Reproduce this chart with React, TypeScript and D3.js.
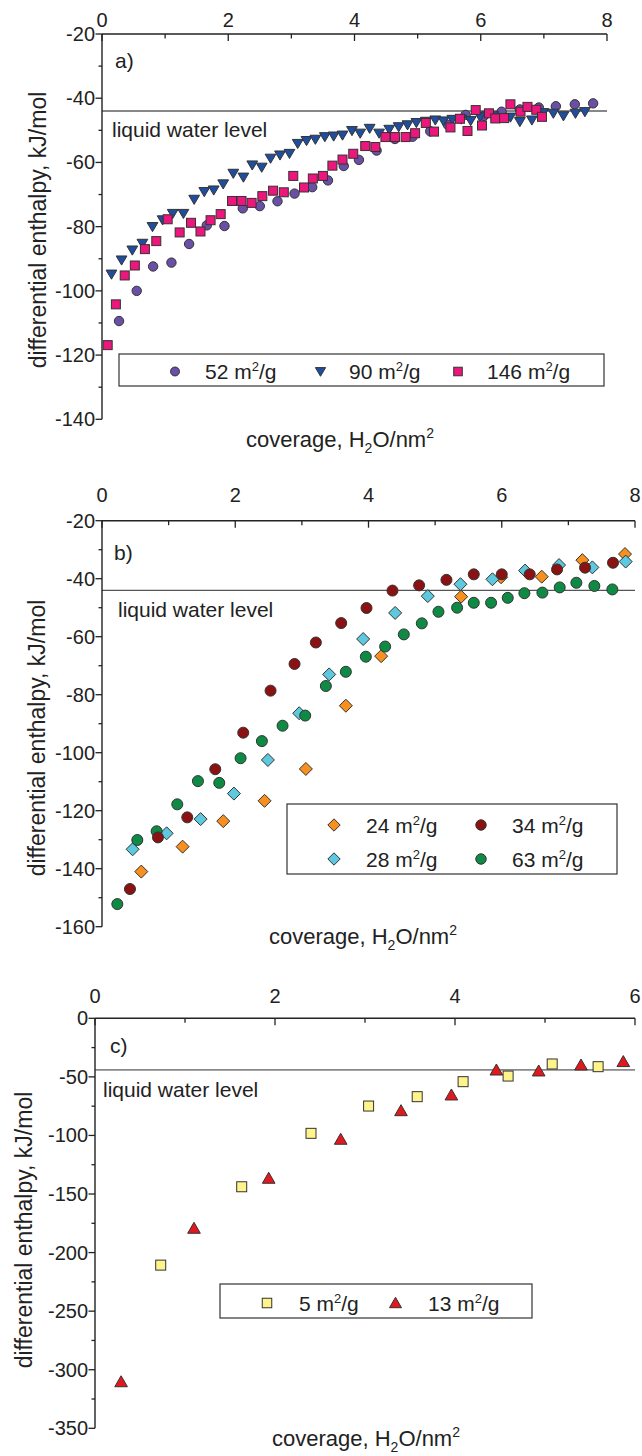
import React from 'react';
import * as d3 from 'd3';

type Pt = [number, number];

// ---------- Panel a data (coverage H2O/nm2, differential enthalpy kJ/mol)
const a52: Pt[] = [
  [0.27, -109.4], [0.55, -100], [0.81, -92.4], [1.1, -91.2], [1.38, -85.4], [1.66, -79.6], [1.94, -79.8],
  [2.23, -74.3], [2.5, -73.6], [2.78, -72.1], [3.05, -69.7], [3.33, -67.7], [3.58, -65.6], [3.83, -61.1],
  [4.07, -59.2], [4.35, -56.3], [4.64, -52.7], [4.92, -52], [5.2, -50.3], [5.48, -48.3], [5.76, -45.2],
  [6.05, -45.5], [6.33, -44.2], [6.62, -43.5], [6.92, -42.9], [7.19, -42.5], [7.49, -41.9], [7.78, -41.6],
];
const a90: Pt[] = [
  [0.15, -94.8], [0.31, -90.4], [0.48, -87.3], [0.64, -85.2], [0.8, -80], [0.96, -77.9], [1.12, -75.9],
  [1.29, -75.9], [1.46, -71.5], [1.62, -69.1], [1.77, -68.6], [1.92, -66.7], [2.08, -63.4], [2.24, -64.6],
  [2.38, -60.8], [2.53, -61.5], [2.67, -58.7], [2.82, -57.7], [2.97, -57.2], [3.1, -54.1], [3.24, -53.2],
  [3.38, -52.8], [3.53, -52], [3.67, -51.8], [3.81, -51.5], [3.96, -50.1], [4.09, -50.9], [4.24, -49.4],
  [4.39, -50.9], [4.55, -49.7], [4.7, -48.9], [4.84, -48.3], [4.98, -47.6], [5.13, -47.2], [5.28, -46.8],
  [5.41, -47.1], [5.55, -46.6], [5.69, -46.5], [5.84, -47], [5.99, -45.8], [6.2, -45.5], [6.47, -45.9],
  [6.62, -47.3], [6.81, -46.8], [6.99, -44.5], [7.15, -44.7], [7.31, -45.5], [7.5, -44.7], [7.65, -44.2],
];
const a146: Pt[] = [
  [0.09, -116.9], [0.22, -104.2], [0.36, -95.2], [0.52, -92.1], [0.68, -87], [0.86, -84.5], [1.04, -77.7],
  [1.23, -81.8], [1.41, -78.8], [1.56, -81.5], [1.72, -78], [1.88, -76.1], [2.06, -72], [2.21, -72],
  [2.37, -72.6], [2.54, -70.5], [2.71, -68.8], [2.88, -69.3], [3.03, -64.2], [3.2, -67.8], [3.34, -65],
  [3.5, -64.2], [3.65, -61], [3.81, -59.1], [3.98, -57.3], [4.17, -54.9], [4.33, -55.2], [4.49, -52.1],
  [4.64, -52.1], [4.81, -52.1], [4.96, -50.9], [5.13, -47.7], [5.26, -50.4], [5.52, -49.1], [5.67, -46.4],
  [5.79, -50.2], [5.92, -43.7], [6.02, -48.5], [6.13, -44.7], [6.23, -46.3], [6.37, -46.2], [6.47, -41.9],
  [6.63, -44.2], [6.74, -42.7], [6.88, -43.6], [6.97, -45.8],
];

// ---------- Panel b data
const b24: Pt[] = [
  [0.59, -141], [1.21, -132.4], [1.82, -123.6], [2.44, -116.6], [3.06, -105.6], [3.66, -83.8], [4.19, -66.7],
  [5.39, -46.2], [5.99, -39.5], [6.6, -39.3], [7.21, -33.6], [7.85, -31.5],
];
const b28: Pt[] = [
  [0.46, -133.3], [0.97, -127.8], [1.48, -122.9], [1.98, -114.1], [2.49, -102.5], [2.96, -86.4], [3.41, -73],
  [3.92, -60.8], [4.4, -51.8], [4.89, -46], [5.38, -41.9], [5.86, -40.2], [6.35, -37.2], [6.86, -35.3],
  [7.36, -36.1], [7.86, -34.1],
];
const b34: Pt[] = [
  [0.42, -147], [0.84, -129.2], [1.28, -122.3], [1.7, -105.7], [2.12, -93.1], [2.53, -78.6], [2.89, -69.4],
  [3.21, -62], [3.59, -55.3], [3.97, -50.1], [4.36, -44.1], [4.76, -42.3], [5.17, -40.4], [5.58, -38.5],
  [6, -38.5], [6.42, -38.5], [6.83, -36.8], [7.25, -36.2], [7.67, -34.5],
];
const b63: Pt[] = [
  [0.23, -152.2], [0.53, -130.1], [0.82, -127.1], [1.13, -117.8], [1.44, -109.8], [1.76, -110.4], [2.08, -101.9],
  [2.4, -96], [2.71, -90.7], [3.05, -87.2], [3.36, -77], [3.66, -72.1], [3.96, -66.9], [4.25, -63.4],
  [4.53, -59.2], [4.8, -55.4], [5.05, -51.4], [5.33, -50], [5.58, -48.3], [5.84, -48.3], [6.09, -46.6],
  [6.34, -45], [6.61, -44.8], [6.87, -43], [7.12, -41.4], [7.39, -42.5], [7.66, -43.7],
];

// ---------- Panel c data
const c5: Pt[] = [
  [0.73, -210.7], [1.63, -143.8], [2.4, -98.2], [3.04, -74.9], [3.58, -66.9], [4.09, -54.1], [4.59, -49.3],
  [5.08, -39], [5.59, -41.3],
];
const c13: Pt[] = [
  [0.29, -310.3], [1.1, -179.3], [1.93, -136.6], [2.73, -103.3], [3.4, -78.9], [3.96, -65.5], [4.46, -44.2],
  [4.93, -45], [5.4, -39.9], [5.87, -37],
];

// ---------- tick values & labels
const ticksX8 = [0, 2, 4, 6, 8];
const minorX8 = [1, 3, 5, 7];
const ticksX6 = [0, 2, 4, 6];
const minorX6 = [1, 3, 5];
const ticksYa = [-20, -40, -60, -80, -100, -120, -140];
const minorYa = [-30, -50, -70, -90, -110, -130];
const ticksYb = [-20, -40, -60, -80, -100, -120, -140, -160];
const minorYb = [-30, -50, -70, -90, -110, -130, -150];
const ticksYc = [0, -50, -100, -150, -200, -250, -300, -350];
const minorYc = [-25, -75, -125, -175, -225, -275, -325];
const liquidWater = -44;
const panelLetters = ['a)', 'b)', 'c)'];
const waterLabel = 'liquid water level';
const yTitle = 'differential enthalpy, kJ/mol';

const FONT = "'Liberation Sans', Arial, Helvetica, sans-serif";
const STROKE = '#333';

type Shape = 'circle' | 'square' | 'triDown' | 'triUp' | 'diamond';

function Marker({ cx, cy, shape, size, fill }: { cx: number; cy: number; shape: Shape; size: number; fill: string }) {
  const s = size / 2;
  const common = { fill, stroke: STROKE, strokeWidth: 1 };
  if (shape === 'circle') return <circle cx={cx} cy={cy} r={s} {...common} />;
  if (shape === 'square') return <rect x={cx - s} y={cy - s} width={size} height={size} {...common} />;
  let pts: Pt[] = [];
  if (shape === 'triDown') pts = [[cx - s * 1.12, cy - s * 0.85], [cx + s * 1.12, cy - s * 0.85], [cx, cy + s * 1.05]];
  if (shape === 'triUp') pts = [[cx - s * 1.15, cy + s * 0.9], [cx + s * 1.15, cy + s * 0.9], [cx, cy - s * 1.1]];
  if (shape === 'diamond') pts = [[cx, cy - s], [cx + s, cy], [cx, cy + s], [cx - s, cy]];
  return <polygon points={pts.map((p) => p.join(',')).join(' ')} {...common} />;
}

function UnitLabel({ x, y, value }: { x: number; y: number; value: string }) {
  return (
    <text x={x} y={y} fontSize={21} fontFamily={FONT} fill="#222">
      {value} m<tspan dy={-8} fontSize={13}>2</tspan><tspan dy={8}>/g</tspan>
    </text>
  );
}

interface Series { data: Pt[]; shape: Shape; size: number; fill: string; label: string }
interface LegendItem { s: number; mx: number; tx: number; y: number }
interface PanelCfg {
  xr: [number, number]; yr: [number, number]; xd: [number, number]; yd: [number, number];
  xMajor: number[]; xMinor: number[]; yMajor: number[]; yMinor: number[];
  letter: string; letterPos: Pt; waterPos: Pt; lineColor: string; lineWidth: number;
  series: Series[]; legendBox: [number, number, number, number]; legend: LegendItem[];
  xTitlePos: Pt; yTitlePos: Pt; xLabelY: number; yLabelX: number;
}

function Panel({ c }: { c: PanelCfg }) {
  const x = d3.scaleLinear().domain(c.xd).range(c.xr);
  const y = d3.scaleLinear().domain(c.yd).range(c.yr);
  const left = c.xr[0];
  const top = c.yr[0];
  return (
    <g>
      {/* liquid water level line */}
      <line x1={x(c.xd[0])} x2={x(c.xd[1])} y1={y(liquidWater)} y2={y(liquidWater)} stroke={c.lineColor} strokeWidth={c.lineWidth} />
      <text x={c.waterPos[0]} y={c.waterPos[1]} fontSize={21} fontFamily={FONT} fill="#222">{waterLabel}</text>
      <text x={c.letterPos[0]} y={c.letterPos[1]} fontSize={21} fontFamily={FONT} fill="#222">{c.letter}</text>
      {/* axes */}
      <line x1={left} x2={x(c.xd[1])} y1={top} y2={top} stroke="#222" strokeWidth={1.4} />
      <line x1={left} x2={left} y1={top} y2={y(c.yd[1])} stroke="#222" strokeWidth={1.4} />
      {c.xMajor.map((t) => (
        <g key={'xm' + t}>
          <line x1={x(t)} x2={x(t)} y1={top} y2={top + 7} stroke="#222" strokeWidth={1.3} />
          <text x={x(t)} y={c.xLabelY} textAnchor="middle" fontSize={20} fontFamily={FONT} fill="#222">{t}</text>
        </g>
      ))}
      {c.xMinor.map((t) => (
        <line key={'xn' + t} x1={x(t)} x2={x(t)} y1={top} y2={top + 4.5} stroke="#222" strokeWidth={1.3} />
      ))}
      {c.yMajor.map((t) => (
        <g key={'ym' + t}>
          <line x1={left - 6.5} x2={left} y1={y(t)} y2={y(t)} stroke="#222" strokeWidth={1.3} />
          <text x={c.yLabelX} y={y(t) + 7} textAnchor="end" fontSize={20} fontFamily={FONT} fill="#222">{t}</text>
        </g>
      ))}
      {c.yMinor.map((t) => (
        <line key={'yn' + t} x1={left - 3.5} x2={left} y1={y(t)} y2={y(t)} stroke="#222" strokeWidth={1.3} />
      ))}
      {/* data */}
      {c.series.map((s, i) => (
        <g key={'s' + i}>
          {s.data.map((p, j) => (
            <Marker key={j} cx={x(p[0])} cy={y(p[1])} shape={s.shape} size={s.size} fill={s.fill} />
          ))}
        </g>
      ))}
      {/* legend */}
      <rect x={c.legendBox[0]} y={c.legendBox[1]} width={c.legendBox[2]} height={c.legendBox[3]} fill="white" stroke="#333" strokeWidth={1.2} />
      {c.legend.map((l, i) => {
        const s = c.series[l.s];
        return (
          <g key={'l' + i}>
            <Marker cx={l.mx} cy={l.y} shape={s.shape} size={s.size * 0.95} fill={s.fill} />
            <UnitLabel x={l.tx} y={l.y + 7.5} value={s.label} />
          </g>
        );
      })}
      {/* titles */}
      <text x={c.xTitlePos[0]} y={c.xTitlePos[1]} textAnchor="middle" fontSize={22} fontFamily={FONT} fill="#222">
        coverage, H<tspan dy={6} fontSize={14}>2</tspan><tspan dy={-6}>O/nm</tspan><tspan dy={-9} fontSize={14}>2</tspan>
      </text>
      <text transform={`translate(${c.yTitlePos[0]},${c.yTitlePos[1]}) rotate(-90)`} textAnchor="middle" fontSize={23} fontFamily={FONT} fill="#222">
        {yTitle}
      </text>
    </g>
  );
}

const panels: PanelCfg[] = [
  {
    xr: [102, 607], yr: [34, 419.3], xd: [0, 8], yd: [-20, -140],
    xMajor: ticksX8, xMinor: minorX8, yMajor: ticksYa, yMinor: minorYa,
    letter: panelLetters[0], letterPos: [115, 68], waterPos: [112, 137], lineColor: '#111', lineWidth: 1.1,
    series: [
      { data: a52, shape: 'circle', size: 9.4, fill: '#6a4fa6', label: '52' },
      { data: a90, shape: 'triDown', size: 9.6, fill: '#1f4e9e', label: '90' },
      { data: a146, shape: 'square', size: 9, fill: '#ec167c', label: '146' },
    ],
    legendBox: [119, 354, 485, 32],
    legend: [
      { s: 0, mx: 175, tx: 205, y: 371.5 },
      { s: 1, mx: 320.5, tx: 349, y: 371.5 },
      { s: 2, mx: 458, tx: 487, y: 371.5 },
    ],
    xTitlePos: [340, 447], yTitlePos: [46, 230], xLabelY: 27, yLabelX: 95,
  },
  {
    xr: [102, 635], yr: [520.7, 926.7], xd: [0, 8], yd: [-20, -160],
    xMajor: ticksX8, xMinor: minorX8, yMajor: ticksYb, yMinor: minorYb,
    letter: panelLetters[1], letterPos: [114, 560], waterPos: [118, 617], lineColor: '#555', lineWidth: 1.2,
    series: [
      { data: b24, shape: 'diamond', size: 13, fill: '#f7901e', label: '24' },
      { data: b28, shape: 'diamond', size: 13, fill: '#5ec8df', label: '28' },
      { data: b63, shape: 'circle', size: 11, fill: '#0e8a45', label: '63' },
      { data: b34, shape: 'circle', size: 11, fill: '#8a1212', label: '34' },
    ],
    legendBox: [287, 804, 330, 70],
    legend: [
      { s: 0, mx: 334, tx: 366, y: 825 },
      { s: 3, mx: 481, tx: 512, y: 825 },
      { s: 1, mx: 334, tx: 366, y: 859 },
      { s: 2, mx: 481, tx: 512, y: 859 },
    ],
    xTitlePos: [363, 944], yTitlePos: [45, 738], xLabelY: 502, yLabelX: 95,
  },
  {
    xr: [95, 635], yr: [1018.3, 1428.3], xd: [0, 6], yd: [0, -350],
    xMajor: ticksX6, xMinor: minorX6, yMajor: ticksYc, yMinor: minorYc,
    letter: panelLetters[2], letterPos: [110, 1053], waterPos: [103, 1097], lineColor: '#888', lineWidth: 1.6,
    series: [
      { data: c5, shape: 'square', size: 10, fill: '#fff38c', label: '5' },
      { data: c13, shape: 'triUp', size: 11, fill: '#e2181f', label: '13' },
    ],
    legendBox: [220, 1284, 312, 34],
    legend: [
      { s: 0, mx: 267, tx: 299, y: 1303 },
      { s: 1, mx: 395.5, tx: 428, y: 1303 },
    ],
    xTitlePos: [366, 1446], yTitlePos: [32, 1230], xLabelY: 1003, yLabelX: 88,
  },
];

export default function App() {
  return (
    <svg width={642} height={1456} viewBox="0 0 642 1456"
      style={{ position: 'absolute', left: 0, top: 0, background: 'white' }}>
      <rect x={0} y={0} width={642} height={1456} fill="white" />
      {panels.map((p, i) => <Panel key={i} c={p} />)}
    </svg>
  );
}
